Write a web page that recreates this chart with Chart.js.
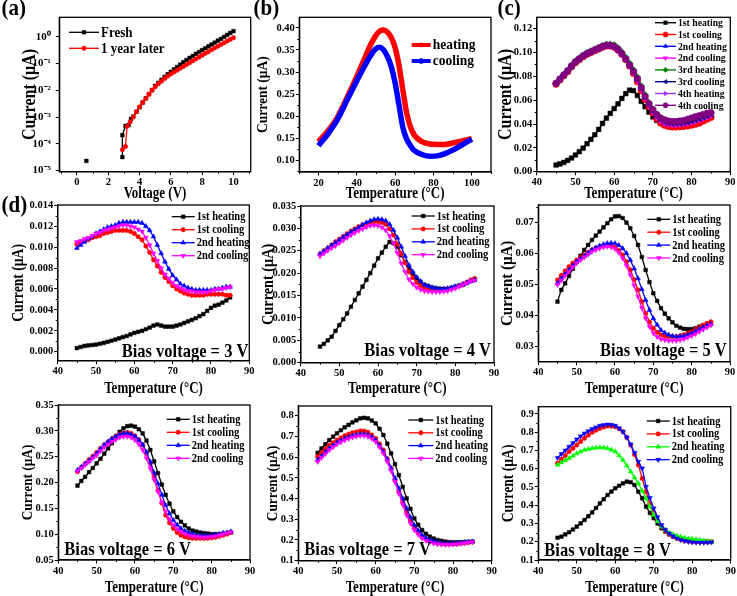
<!DOCTYPE html>
<html><head><meta charset="utf-8">
<script src="https://cdn.jsdelivr.net/npm/chart.js@4.4.0/dist/chart.umd.min.js"></script>
<style>
html,body{margin:0;padding:0;background:#fff;}
body{width:737px;height:596px;position:relative;overflow:hidden;}
canvas{position:absolute;}
</style></head><body>
<canvas id="bg" width="737" height="596" style="left:0;top:0;width:737px;height:596px"></canvas>
<script>
// ---------- DATA ----------
const T = [45,46,47,48,49,50,51,52,53,54,55,56,57,58,59,60,61,62,63,64,65,66,67,68,69,70,71,72,73,74,75,76,77,78,79,80,81,82,83,84,85];

// (a) I-V
const aFreshV = [0.6,0.8,2.9,2.9,3.1,3.3,3.45,3.6,3.8,4.0,4.2,4.4,4.6,4.8,5.0,5.2,5.4,5.6,5.8,6.0,6.2,6.4,6.6,6.8,7.0,7.2,7.4,7.6,7.8,8.0,8.2,8.4,8.6,8.8,9.0,9.2,9.4,9.6,9.8,10.0];
const aFreshI = [2.3e-5,null,3.2e-5,2.1e-4,4.7e-4,5.0e-4,8.5e-4,1.05e-3,1.58e-3,2.34e-3,3.47e-3,5.0e-3,7.2e-3,0.0102,0.0145,0.019,0.0245,0.0316,0.0398,0.049,0.060,0.074,0.091,0.112,0.135,0.162,0.19,0.229,0.269,0.316,0.37,0.437,0.51,0.60,0.71,0.83,0.98,1.17,1.38,1.62];
const aLaterV = [2.9,3.1,3.2,3.4,3.6,3.8,4.0,4.2,4.4,4.6,4.8,5.0,5.2,5.4,5.6,5.8,6.0,6.2,6.4,6.6,6.8,7.0,7.2,7.4,7.6,7.8,8.0,8.2,8.4,8.6,8.8,9.0,9.2,9.4,9.6,9.8,10.0];
const aLaterI = [6e-5,8e-5,4.5e-4,6.5e-4,1.0e-3,1.58e-3,2.4e-3,3.55e-3,5.0e-3,7.1e-3,0.01,0.0135,0.0174,0.0219,0.0275,0.0339,0.0407,0.0479,0.0562,0.066,0.0776,0.0912,0.107,0.126,0.148,0.174,0.204,0.24,0.275,0.324,0.38,0.437,0.513,0.589,0.692,0.794,0.912];

// (b)
const bT = [20,25,30,35,40,44,47,50,52,54,56,58,60,62,64,66,68,70,74,78,82,86,90,95,100];
const bHeat = [0.142,0.167,0.198,0.243,0.29,0.33,0.36,0.383,0.393,0.395,0.390,0.378,0.355,0.315,0.26,0.207,0.175,0.157,0.142,0.137,0.136,0.136,0.139,0.144,0.149];
const bCool = [0.133,0.16,0.193,0.237,0.28,0.313,0.336,0.353,0.356,0.35,0.335,0.312,0.275,0.225,0.175,0.148,0.133,0.122,0.113,0.109,0.110,0.115,0.123,0.135,0.148];

// (c)
const c_h1 = [.0056,.0065,.0078,.0095,.0115,.014,.0168,.0198,.0235,.0272,.031,.0355,.0405,.045,.049,.053,.057,.0615,.0655,.0685,.068,.064,.059,.0545,.05,.046,.043,.0405,.039,.0382,.0378,.0378,.0379,.038,.0385,.039,.04,.041,.0425,.044,.046];
const c_c1 = [.0735,.077,.0805,.084,.088,.0915,.094,.0965,.0985,.1,.1015,.103,.1045,.1055,.1055,.1045,.102,.0985,.094,.0885,.0825,.0755,.068,.0605,.0545,.0495,.0445,.041,.039,.038,.0375,.0375,.0378,.038,.0385,.039,.0398,.0408,.0425,.044,.0455];
const c_h2 = [.0745,.078,.0815,.085,.089,.0925,.095,.0975,.0995,.101,.1025,.104,.1055,.1065,.1065,.1055,.103,.0995,.095,.0895,.0835,.077,.0695,.062,.0558,.0505,.0462,.0432,.0412,.0402,.0398,.0398,.04,.0405,.0412,.042,.043,.044,.0452,.0465,.0478];
const c_c2 = [.075,.0785,.082,.0855,.0895,.093,.0955,.098,.0995,.101,.102,.1035,.1045,.1055,.1055,.1045,.102,.0985,.094,.0885,.083,.0765,.069,.0615,.0552,.05,.0458,.0428,.0408,.0398,.0393,.0393,.0396,.04,.0406,.0413,.0422,.0432,.0445,.0458,.047];
const c_h3 = [.0745,.078,.0815,.085,.0895,.093,.0955,.098,.1,.1015,.103,.1045,.106,.107,.107,.1065,.104,.1005,.096,.091,.0855,.0795,.072,.0645,.058,.0528,.0485,.0452,.0432,.042,.0415,.0415,.0418,.0422,.0428,.0436,.0445,.0455,.0467,.0478,.049];
const c_c3 = [.074,.0775,.081,.0845,.0885,.092,.0948,.0972,.0992,.1008,.1022,.1037,.1052,.1062,.1062,.1052,.1028,.0992,.0948,.0895,.0838,.0775,.07,.0625,.0562,.051,.047,.044,.042,.041,.0405,.0405,.0408,.0412,.0418,.0426,.0436,.0446,.0458,.047,.0482];
const c_h4 = [.0745,.078,.0815,.085,.089,.0925,.095,.0975,.0995,.101,.1025,.104,.1055,.1063,.1063,.1055,.1032,.0997,.0952,.09,.0845,.0785,.071,.0635,.0575,.0525,.0485,.0455,.044,.043,.0425,.0425,.0428,.0433,.0442,.0452,.0462,.0472,.0482,.0492,.05];
const c_c4 = [.074,.0775,.081,.0845,.0885,.092,.0945,.097,.099,.1005,.102,.1035,.105,.106,.106,.105,.1025,.099,.0945,.0895,.084,.078,.0705,.063,.057,.052,.048,.045,.0435,.0425,.042,.042,.0425,.043,.044,.045,.046,.047,.048,.049,.0495];

// (d) 3 V
const v3_h1 = [.00035,.00045,.00055,.0006,.00064,.00068,.00076,.00084,.00094,.00105,.00116,.00128,.0014,.0015,.00165,.0018,.0019,.002,.00215,.0023,.0025,.0026,.0025,.0024,.0024,.0024,.0025,.0026,.00275,.0029,.00305,.0032,.0034,.0036,.0039,.0042,.0044,.0045,.0047,.0049,.0052];
const v3_c1 = [.0103,.0105,.0106,.0107,.0109,.011,.0111,.0113,.0114,.0115,.0116,.0116,.0116,.0116,.0115,.0113,.011,.0107,.0101,.0095,.0088,.0082,.0076,.0071,.0067,.0063,.006,.0058,.0056,.0055,.0054,.0054,.0054,.0054,.0055,.0055,.0055,.0055,.0055,.0054,.0054];
const v3_h2 = [.0099,.0102,.0105,.0108,.011,.0113,.0115,.0117,.0119,.012,.0121,.0123,.0124,.0124,.0124,.0124,.0124,.0123,.012,.0116,.011,.0102,.0094,.0086,.0079,.0073,.0069,.0065,.0063,.0061,.006,.0059,.0059,.0059,.0059,.0059,.006,.006,.0061,.0062,.0062];
const v3_c2 = [.0105,.0106,.0108,.0109,.0111,.0113,.0114,.0116,.0117,.0118,.0119,.012,.0121,.0121,.012,.0119,.0117,.0115,.0109,.0102,.0094,.0087,.008,.0074,.007,.0066,.0063,.0061,.0059,.0058,.0058,.0057,.0057,.0057,.0057,.0058,.0059,.006,.006,.0061,.0062];
// 4 V
const v4_h1 = [.0036,.0042,.005,.0058,.0071,.0084,.0097,.011,.0125,.014,.0155,.017,.0185,.02,.0217,.0233,.0246,.0259,.027,.0267,.0259,.024,.0225,.0211,.0199,.0188,.018,.0174,.0171,.0168,.0166,.0165,.0165,.0165,.0167,.017,.0172,.0174,.0178,.0183,.0186];
const v4_c1 = [.0243,.025,.0256,.0263,.027,.0276,.0282,.0288,.0294,.0299,.0304,.0308,.0311,.0314,.0315,.0315,.0313,.0309,.0299,.0285,.0265,.0244,.0223,.0203,.019,.0179,.0172,.0166,.0164,.0162,.0162,.0162,.0163,.0164,.0166,.0168,.0172,.0176,.018,.0185,.0188];
const v4_h2 = [.0243,.0249,.0256,.0262,.0268,.0274,.028,.0286,.0292,.0297,.0302,.0308,.0313,.0317,.032,.0321,.032,.0317,.0309,.0296,.0279,.0259,.0238,.0218,.0203,.0191,.0182,.0174,.0171,.0168,.0166,.0165,.0165,.0166,.0168,.017,.0172,.0175,.0179,.0182,.0185];
const v4_c2 = [.0238,.0244,.025,.0256,.0261,.0267,.0273,.0279,.0285,.029,.0295,.0299,.0303,.0306,.0307,.0306,.0302,.0296,.0283,.0267,.0245,.0222,.0203,.0186,.0176,.0168,.0163,.016,.0159,.0158,.0158,.0158,.0159,.016,.0163,.0166,.017,.0174,.0178,.0182,.0184];
// 5 V
const v5_h1 = [.0444,.0482,.0503,.0527,.055,.0573,.0592,.0611,.0627,.0643,.0657,.067,.0684,.0697,.071,.0719,.072,.0714,.0699,.0681,.0656,.0627,.0588,.0546,.0507,.0471,.0446,.0423,.0405,.039,.0377,.0366,.036,.0356,.0355,.0355,.0358,.0363,.0367,.0371,.0374];
const v5_c1 = [.0514,.0529,.0543,.0557,.0568,.0578,.0587,.0595,.0603,.0611,.0617,.0622,.0625,.0627,.0625,.0619,.0609,.0595,.0573,.0546,.0515,.0482,.0444,.0406,.0378,.0358,.0345,.0337,.0333,.0331,.0331,.0331,.0334,.0337,.0342,.0347,.0354,.0361,.0368,.0374,.0379];
const v5_h2 = [.0503,.0518,.0532,.0546,.056,.0573,.0582,.0591,.0601,.0611,.0618,.0624,.0629,.0632,.0633,.0632,.0626,.0616,.06,.0578,.0551,.0519,.0484,.0449,.0417,.039,.0369,.0352,.0343,.0337,.0333,.0331,.0332,.0333,.0337,.0342,.0348,.0355,.0361,.0367,.0371];
const v5_c2 = [.0498,.0512,.0527,.0541,.0555,.0568,.0578,.0587,.0596,.0605,.0611,.0616,.062,.0622,.062,.0614,.0602,.0584,.056,.053,.0496,.046,.0424,.039,.0363,.0342,.033,.0323,.032,.0318,.0318,.0318,.032,.0323,.0328,.0333,.034,.0347,.0354,.0361,.0368];
// 6 V
const v6_h1 = [.194,.203,.211,.22,.228,.237,.246,.256,.266,.276,.287,.298,.305,.309,.31,.308,.303,.295,.281,.263,.241,.218,.196,.176,.159,.144,.133,.124,.117,.111,.107,.105,.103,.102,.101,.1,.1,.1,.101,.102,.103];
const v6_c1 = [.221,.229,.237,.244,.251,.258,.266,.273,.279,.285,.29,.294,.296,.297,.295,.29,.283,.273,.257,.237,.212,.185,.16,.137,.122,.111,.103,.098,.095,.093,.092,.092,.092,.092,.092,.093,.094,.096,.098,.1,.103];
const v6_h2 = [.224,.23,.236,.242,.249,.256,.265,.273,.279,.285,.289,.293,.295,.295,.293,.289,.282,.273,.259,.24,.219,.198,.176,.156,.14,.127,.118,.111,.106,.103,.1,.098,.097,.097,.097,.098,.099,.1,.102,.103,.105];
const v6_c2 = [.222,.228,.234,.24,.247,.253,.261,.268,.274,.279,.283,.287,.289,.289,.287,.282,.274,.263,.247,.227,.205,.182,.162,.144,.129,.118,.11,.105,.101,.098,.096,.095,.094,.094,.094,.095,.096,.098,.1,.102,.104];
// 7 V
const v7_h1 = [.621,.642,.662,.682,.699,.715,.73,.744,.756,.768,.778,.787,.79,.787,.777,.763,.737,.707,.665,.618,.566,.513,.457,.401,.35,.304,.273,.248,.23,.216,.207,.2,.196,.192,.19,.189,.189,.189,.19,.191,.192];
const v7_c1 = [.602,.621,.64,.658,.67,.682,.693,.703,.711,.718,.722,.726,.726,.72,.707,.69,.664,.634,.592,.546,.49,.433,.383,.336,.293,.256,.234,.216,.204,.195,.189,.185,.182,.18,.18,.18,.181,.183,.185,.188,.19];
const v7_h2 = [.586,.605,.624,.642,.656,.67,.68,.69,.697,.703,.707,.711,.711,.707,.697,.682,.656,.626,.588,.546,.498,.449,.4,.353,.31,.272,.246,.224,.21,.2,.194,.189,.185,.183,.183,.183,.184,.187,.189,.191,.192];
const v7_c2 = [.578,.597,.616,.634,.648,.662,.672,.682,.689,.695,.7,.703,.703,.699,.689,.674,.648,.618,.578,.533,.48,.425,.371,.32,.28,.248,.226,.208,.197,.189,.184,.18,.178,.177,.177,.179,.18,.182,.185,.188,.19];
// 8 V
const v8_h1 = [.222,.228,.24,.252,.267,.283,.301,.319,.34,.361,.385,.41,.433,.456,.475,.493,.507,.52,.529,.526,.511,.474,.438,.392,.358,.329,.3,.274,.256,.241,.23,.222,.217,.213,.21,.208,.206,.204,.202,.2,.2];
const v8_c1 = [.63,.652,.673,.694,.712,.73,.749,.767,.784,.8,.811,.821,.828,.834,.834,.83,.819,.803,.771,.73,.678,.621,.547,.474,.41,.356,.315,.283,.26,.241,.229,.219,.212,.206,.203,.2,.2,.2,.2,.2,.2];
const v8_h2 = [.621,.634,.646,.657,.671,.684,.694,.703,.708,.712,.715,.717,.716,.712,.704,.694,.673,.648,.617,.584,.552,.52,.479,.438,.392,.347,.313,.283,.265,.25,.24,.233,.227,.222,.218,.215,.212,.21,.206,.203,.2];
const v8_c2 = [.66,.681,.701,.721,.741,.761,.778,.794,.806,.818,.827,.836,.84,.843,.841,.836,.822,.803,.772,.734,.688,.639,.602,.502,.44,.383,.335,.292,.266,.246,.231,.219,.21,.204,.2,.197,.196,.195,.195,.196,.197];

// tick labels
const aXTicks = [0,2,4,6,8,10];
const aYTicks = [1e-5,1e-4,1e-3,1e-2,1e-1,1];
const bXTicks = [20,40,60,80,100];
const bYTicks = [0.10,0.15,0.20,0.25,0.30,0.35,0.40];
const tempTicks = [40,50,60,70,80,90];
const cYTicks = [0,0.02,0.04,0.06,0.08,0.10,0.12];
const v3Ticks = [0,0.002,0.004,0.006,0.008,0.010,0.012,0.014];
const v4Ticks = [0,0.005,0.010,0.015,0.020,0.025,0.030,0.035];
const v5Ticks = [0.03,0.04,0.05,0.06,0.07];
const v6Ticks = [0.05,0.10,0.15,0.20,0.25,0.30,0.35];
const v7Ticks = [0.1,0.2,0.3,0.4,0.5,0.6,0.7,0.8];
const v8Ticks = [0.1,0.2,0.3,0.4,0.5,0.6,0.7,0.8,0.9];

const dLabels = ['1st heating','1st cooling','2nd heating','2nd cooling'];
const cLabels = ['1st heating','1st cooling','2nd heating','2nd cooling','3rd heating','3rd cooling','4th heating','4th cooling'];
const panelLetters = ['(a)','(b)','(c)','(d)'];

// ---------- RENDER ----------
const FONT = '"Liberation Serif", "Times New Roman", serif';
Chart.defaults.font.family = FONT;
Chart.defaults.font.weight = 'bold';
Chart.defaults.color = '#000';

// panel letters on the background canvas (redrawn once the font is surely loaded)
function drawLetters() {
  const ctx = document.getElementById('bg').getContext('2d');
  ctx.clearRect(0, 0, 737, 596);
  ctx.fillStyle = '#000';
  ctx.font = 'bold 21px "Liberation Serif"';
  ctx.textBaseline = 'alphabetic'; ctx.textAlign = 'left';
  const pos = [[1.5, 15.3], [253.5, 14.8], [497.5, 15.3], [1.5, 212.3]];
  panelLetters.forEach((s, i) => {
    ctx.save(); ctx.translate(pos[i][0], pos[i][1]); ctx.scale(1, 1.05); ctx.fillText(s, 0, 0); ctx.restore();
  });
}
drawLetters();
if (document.fonts && document.fonts.load) {
  document.fonts.load('bold 21px "Liberation Serif"').then(drawLetters).catch(() => {});
}

const SUP = {'-':'\u207B','0':'\u2070','1':'\u00B9','2':'\u00B2','3':'\u00B3','4':'\u2074','5':'\u2075','6':'\u2076','7':'\u2077','8':'\u2078','9':'\u2079'};
const sup = n => String(n).split('').map(c => SUP[c]).join('');

const framePlugin = {
  id: 'frame',
  afterDraw(chart) {
    const {ctx, chartArea: a} = chart;
    ctx.save();
    ctx.strokeStyle = '#000'; ctx.lineWidth = 1;
    for (const id of ['x','y']) {
      const s = chart.scales[id];
      if (s.type !== 'linear') continue;
      const tv = s.ticks.map(t => t.value);
      if (tv.length < 2) continue;
      const step = tv[1] - tv[0];
      ctx.beginPath();
      for (let k = -1; k < tv.length; k++) {
        const v = tv[0] + (k + 0.5) * step;
        if (v < s.min || v > s.max) continue;
        const p = Math.round(s.getPixelForValue(v)) + 0.5;
        if (id === 'x') { ctx.moveTo(p, a.bottom); ctx.lineTo(p, a.bottom + 2); }
        else { ctx.moveTo(a.left, p); ctx.lineTo(a.left - 2, p); }
      }
      ctx.stroke();
    }
    ctx.lineWidth = 1.3;
    ctx.strokeRect(a.left, a.top, a.right - a.left, a.bottom - a.top);
    ctx.restore();
  }
};

// text slightly stretched vertically, like the reference figure
function tallText(ctx, text, x, y, sy, rot) {
  ctx.save(); ctx.translate(x, y); if (rot) ctx.rotate(rot); ctx.scale(1, sy); ctx.fillText(text, 0, 0); ctx.restore();
}

const annoPlugin = {
  id: 'anno',
  afterDraw(chart, args, o) {
    const {ctx, chartArea: a} = chart;
    const ox = o.ox, oy = o.oy;
    ctx.save();
    ctx.fillStyle = '#000';
    ctx.textAlign = 'center'; ctx.textBaseline = 'middle';
    ctx.font = 'bold ' + o.xTitle.size + 'px ' + FONT;
    tallText(ctx, o.xTitle.text, (a.left + a.right) / 2, o.xTitle.y - oy, 1.22);
    ctx.font = 'bold ' + o.yTitle.size + 'px ' + FONT;
    tallText(ctx, o.yTitle.text, o.yTitle.x - ox, (a.top + a.bottom) / 2, 1.15, -Math.PI / 2);
    if (o.legend) {
      const L = o.legend;
      chart.data.datasets.forEach((ds, i) => {
        const y = L.y + i * L.dy - oy;
        const x0 = L.x - ox, x1 = x0 + L.len;
        ctx.strokeStyle = ds.borderColor; ctx.lineWidth = L.lw || ds.borderWidth;
        ctx.beginPath(); ctx.moveTo(x0, y); ctx.lineTo(x1, y); ctx.stroke();
        ctx.fillStyle = ds.borderColor; ctx.strokeStyle = ds.borderColor; ctx.lineWidth = 0.5;
        Chart.helpers.drawPoint(ctx, {pointStyle: ds.pointStyle, rotation: ds.pointRotation || 0,
          radius: L.r || ds.pointRadius || 2.5, borderWidth: 0.5}, (x0 + x1) / 2, y);
        ctx.fillStyle = '#000';
        ctx.font = 'bold ' + L.font + 'px ' + FONT;
        ctx.textBaseline = 'middle'; ctx.textAlign = 'left';
        tallText(ctx, ds.label, x1 + 2, y + 0.5, 1.12);
      });
    }
    if (o.bias) {
      ctx.font = 'bold ' + o.bias.size + 'px ' + FONT;
      ctx.fillStyle = '#000'; ctx.textBaseline = 'alphabetic'; ctx.textAlign = 'left';
      tallText(ctx, o.bias.text, o.bias.x - ox, o.bias.y - oy, 1.15);
    }
    ctx.restore();
  }
};

const STY = {
  black: ['#000000','rect',0],
  red: ['#FF0000','circle',0],
  blue: ['#0000FF','triangle',0],
  magenta: ['#FF00FF','triangle',180],
  green: ['#00FF00','triangle',0],
  blueDown: ['#0000FF','triangle',180],
  dgreen: ['#008000','rectRot',0],
  navy: ['#000080','triangle',-90],
  violet: ['#9933FF','triangle',90],
  purple: ['#800080','circle',0]
};

function series(label, sty, xs, ys, extra) {
  const [color, style, rot] = STY[sty];
  return Object.assign({
    label, borderColor: color, backgroundColor: color,
    pointBackgroundColor: color, pointBorderColor: color,
    pointStyle: style, pointRotation: rot,
    pointRadius: style === 'rect' ? 2.6 : (style === 'circle' ? 2.2 : 2.8),
    pointBorderWidth: 0.5, borderWidth: 1.3, showLine: true, tension: 0, fill: false,
    data: xs.map((x, i) => ({x: x, y: ys[i]}))
  }, extra || {});
}

function makePanel(P) {
  const [l, t, r, b] = P.rect;
  const left = Math.round(P.yTitle.x - 12);
  const top = Math.round(t - 12);
  const right = Math.round(r + 14);
  const bottom = Math.round(P.xTitle.y + 10);
  const W = right - left, H = bottom - top;
  const cv = document.createElement('canvas');
  cv.width = W; cv.height = H;
  cv.style.left = left + 'px'; cv.style.top = top + 'px';
  cv.style.width = W + 'px'; cv.style.height = H + 'px';
  document.body.appendChild(cv);
  const PL = l - left, PT = t - top, PR = right - r, PB = bottom - b;
  P.series.forEach((s, i) => { s.order = 100 - i; });
  const yIsLog = P.y.type === 'logarithmic';
  const common = {
    grid: {display: true, drawOnChartArea: false, drawTicks: true, tickLength: 3.5, tickColor: '#000', tickWidth: 1},
    border: {display: true, color: '#000', width: 1.3}
  };
  new Chart(cv, {
    type: 'scatter',
    data: {datasets: P.series},
    options: {
      responsive: false, animation: false, events: [],
      layout: {padding: {left: 0, top: PT, right: PR, bottom: 0}},
      plugins: {legend: {display: false}, tooltip: {enabled: false},
        anno: {ox: left, oy: top, legend: P.legend, bias: P.bias,
          xTitle: {text: P.xTitle.text, y: P.xTitle.y, size: 13},
          yTitle: {text: 'Current (\u03BCA)', x: P.yTitle.x, size: P.yTitle.size}}},
      scales: {
        x: Object.assign({}, common, {
          type: 'linear', min: P.x.min, max: P.x.max,
          afterBuildTicks: s => { s.ticks = P.x.ticks.map(v => ({value: v})); },
          afterFit: s => { s.height = PB; },
          ticks: {autoSkip: false, maxRotation: 0, padding: 1, font: {size: 10.5, weight: 'bold'},
            callback: v => Number(v).toFixed(P.x.dec)},
          title: {display: false}
        }),
        y: Object.assign({}, common, {
          type: yIsLog ? 'logarithmic' : 'linear', min: P.y.min, max: P.y.max,
          afterBuildTicks: s => { s.ticks = P.y.ticks.map(v => ({value: v})); },
          afterFit: s => { s.width = PL; },
          ticks: {autoSkip: false, padding: P.y.pad || 1, font: {size: P.y.fs || 10.5, weight: 'bold'},
            callback: v => yIsLog ? '10' + sup(Math.round(Math.log10(v))) : Number(v).toFixed(P.y.dec)},
          title: {display: false}
        })
      }
    },
    plugins: [framePlugin, annoPlugin]
  });
}

const tempTitle = 'Temperature (\u00B0C)';
const cExtra = {pointRadius: 3.3, borderWidth: 1.6};
const PANELS = [
  {rect: [59.3, 17.3, 250.7, 171.7],
   x: {min: -1.13, max: 11.1, ticks: aXTicks, dec: 0},
   y: {type: 'logarithmic', min: Math.pow(10, -5.04), max: Math.pow(10, 0.724), ticks: aYTicks, pad: 5, fs: 11},
   yTitle: {x: 30, size: 16}, xTitle: {text: 'Voltage (V)', y: 194},
   legend: {x: 69, y: 32.3, dy: 16, len: 30, font: 13},
   series: [series('Fresh', 'black', aFreshV, aFreshI), series('1 year later', 'red', aLaterV, aLaterI)]},
  {rect: [299.3, 17.3, 491, 172],
   x: {min: 10, max: 110, ticks: bXTicks, dec: 0},
   y: {min: 0.0734, max: 0.424, ticks: bYTicks, dec: 2},
   yTitle: {x: 263.3, size: 13.5}, xTitle: {text: tempTitle, y: 194},
   legend: {x: 411.7, y: 45, dy: 16, len: 19, font: 13.5, lw: 4, r: 2.6},
   series: [
     series('heating', 'red', bT, bHeat, {pointStyle: 'rect', pointRadius: 0, borderWidth: 5.5, tension: 0.4, cubicInterpolationMode: 'monotone'}),
     series('cooling', 'blue', bT, bCool, {pointStyle: 'circle', pointRadius: 0, borderWidth: 5.5, tension: 0.4, cubicInterpolationMode: 'monotone'})]},
  {rect: [536.7, 17.3, 730.3, 171.7],
   x: {min: 40, max: 90, ticks: tempTicks, dec: 0},
   y: {min: 0, max: 0.1296, ticks: cYTicks, dec: 2},
   yTitle: {x: 506.7, size: 16}, xTitle: {text: tempTitle, y: 194},
   legend: {x: 655, y: 22.7, dy: 11.8, len: 21, font: 9.7, r: 2.6, lw: 1.4},
   series: [series(cLabels[0], 'black', T, c_h1, cExtra), series(cLabels[1], 'red', T, c_c1, cExtra),
            series(cLabels[2], 'blue', T, c_h2, cExtra), series(cLabels[3], 'magenta', T, c_c2, cExtra),
            series(cLabels[4], 'dgreen', T, c_h3, cExtra), series(cLabels[5], 'navy', T, c_c3, cExtra),
            series(cLabels[6], 'violet', T, c_h4, cExtra), series(cLabels[7], 'purple', T, c_c4, cExtra)]},
  {rect: [57.7, 205, 249.3, 360.7],
   x: {min: 40, max: 90, ticks: tempTicks, dec: 0},
   y: {min: -0.00086, max: 0.01403, ticks: v3Ticks, dec: 3},
   yTitle: {x: 19, size: 13.7}, xTitle: {text: tempTitle, y: 389},
   legend: {x: 171.7, y: 216.7, dy: 13, len: 23, font: 10.5},
   bias: {text: 'Bias voltage = 3 V', x: 121.7, y: 356.5, size: 16.5},
   series: [series(dLabels[0], 'black', T, v3_h1), series(dLabels[1], 'red', T, v3_c1),
            series(dLabels[2], 'blue', T, v3_h2), series(dLabels[3], 'magenta', T, v3_c2)]},
  {rect: [300.7, 206, 494, 362.7],
   x: {min: 40, max: 90, ticks: tempTicks, dec: 0},
   y: {min: 0, max: 0.035, ticks: v4Ticks, dec: 3},
   yTitle: {x: 268.3, size: 14.3}, xTitle: {text: tempTitle, y: 389},
   legend: {x: 411.7, y: 216, dy: 12.9, len: 23, font: 10.5},
   bias: {text: 'Bias voltage = 4 V', x: 364.3, y: 356, size: 16.5},
   series: [series(dLabels[0], 'black', T, v4_h1), series(dLabels[1], 'red', T, v4_c1),
            series(dLabels[2], 'blue', T, v4_h2), series(dLabels[3], 'magenta', T, v4_c2)]},
  {rect: [538.3, 205, 730, 361.7],
   x: {min: 40, max: 90, ticks: tempTicks, dec: 0},
   y: {min: 0.025, max: 0.0756, ticks: v5Ticks, dec: 2},
   yTitle: {x: 507.3, size: 15}, xTitle: {text: tempTitle, y: 389},
   legend: {x: 647.3, y: 219.3, dy: 12.9, len: 23, font: 10.5},
   bias: {text: 'Bias voltage = 5 V', x: 600, y: 355.7, size: 16.5},
   series: [series(dLabels[0], 'black', T, v5_h1), series(dLabels[1], 'red', T, v5_c1),
            series(dLabels[2], 'blue', T, v5_h2), series(dLabels[3], 'magenta', T, v5_c2)]},
  {rect: [58.3, 405, 250, 560],
   x: {min: 40, max: 90, ticks: tempTicks, dec: 0},
   y: {min: 0.05, max: 0.35, ticks: v6Ticks, dec: 2},
   yTitle: {x: 28.3, size: 13.3}, xTitle: {text: tempTitle, y: 588},
   legend: {x: 166.7, y: 419.3, dy: 13, len: 23, font: 10.5},
   bias: {text: 'Bias voltage = 6 V', x: 64.3, y: 555, size: 16.5},
   series: [series(dLabels[0], 'black', T, v6_h1), series(dLabels[1], 'red', T, v6_c1),
            series(dLabels[2], 'blue', T, v6_h2), series(dLabels[3], 'magenta', T, v6_c2)]},
  {rect: [298.3, 406, 491.7, 560.7],
   x: {min: 40, max: 90, ticks: tempTicks, dec: 0},
   y: {min: 0.1, max: 0.847, ticks: v7Ticks, dec: 1},
   yTitle: {x: 273.3, size: 13.3}, xTitle: {text: tempTitle, y: 588},
   legend: {x: 408.3, y: 420, dy: 12.8, len: 25, font: 10.5},
   bias: {text: 'Bias voltage = 7 V', x: 304.3, y: 555, size: 16.5},
   series: [series(dLabels[0], 'black', T, v7_h1), series(dLabels[1], 'red', T, v7_c1),
            series(dLabels[2], 'blue', T, v7_h2), series(dLabels[3], 'magenta', T, v7_c2)]},
  {rect: [538.3, 406.7, 730.7, 560],
   x: {min: 40, max: 90, ticks: tempTicks, dec: 0},
   y: {min: 0.1, max: 0.94, ticks: v8Ticks, dec: 1},
   yTitle: {x: 509.3, size: 13.7}, xTitle: {text: tempTitle, y: 588},
   legend: {x: 646.7, y: 421, dy: 12.9, len: 23, font: 10.5},
   bias: {text: 'Bias voltage = 8 V', x: 544.3, y: 555.7, size: 16.5},
   series: [series(dLabels[0], 'black', T, v8_h1), series(dLabels[1], 'red', T, v8_c1),
            series(dLabels[2], 'green', T, v8_h2), series(dLabels[3], 'blueDown', T, v8_c2)]}
];
PANELS.forEach(makePanel);
</script>
</body></html>
